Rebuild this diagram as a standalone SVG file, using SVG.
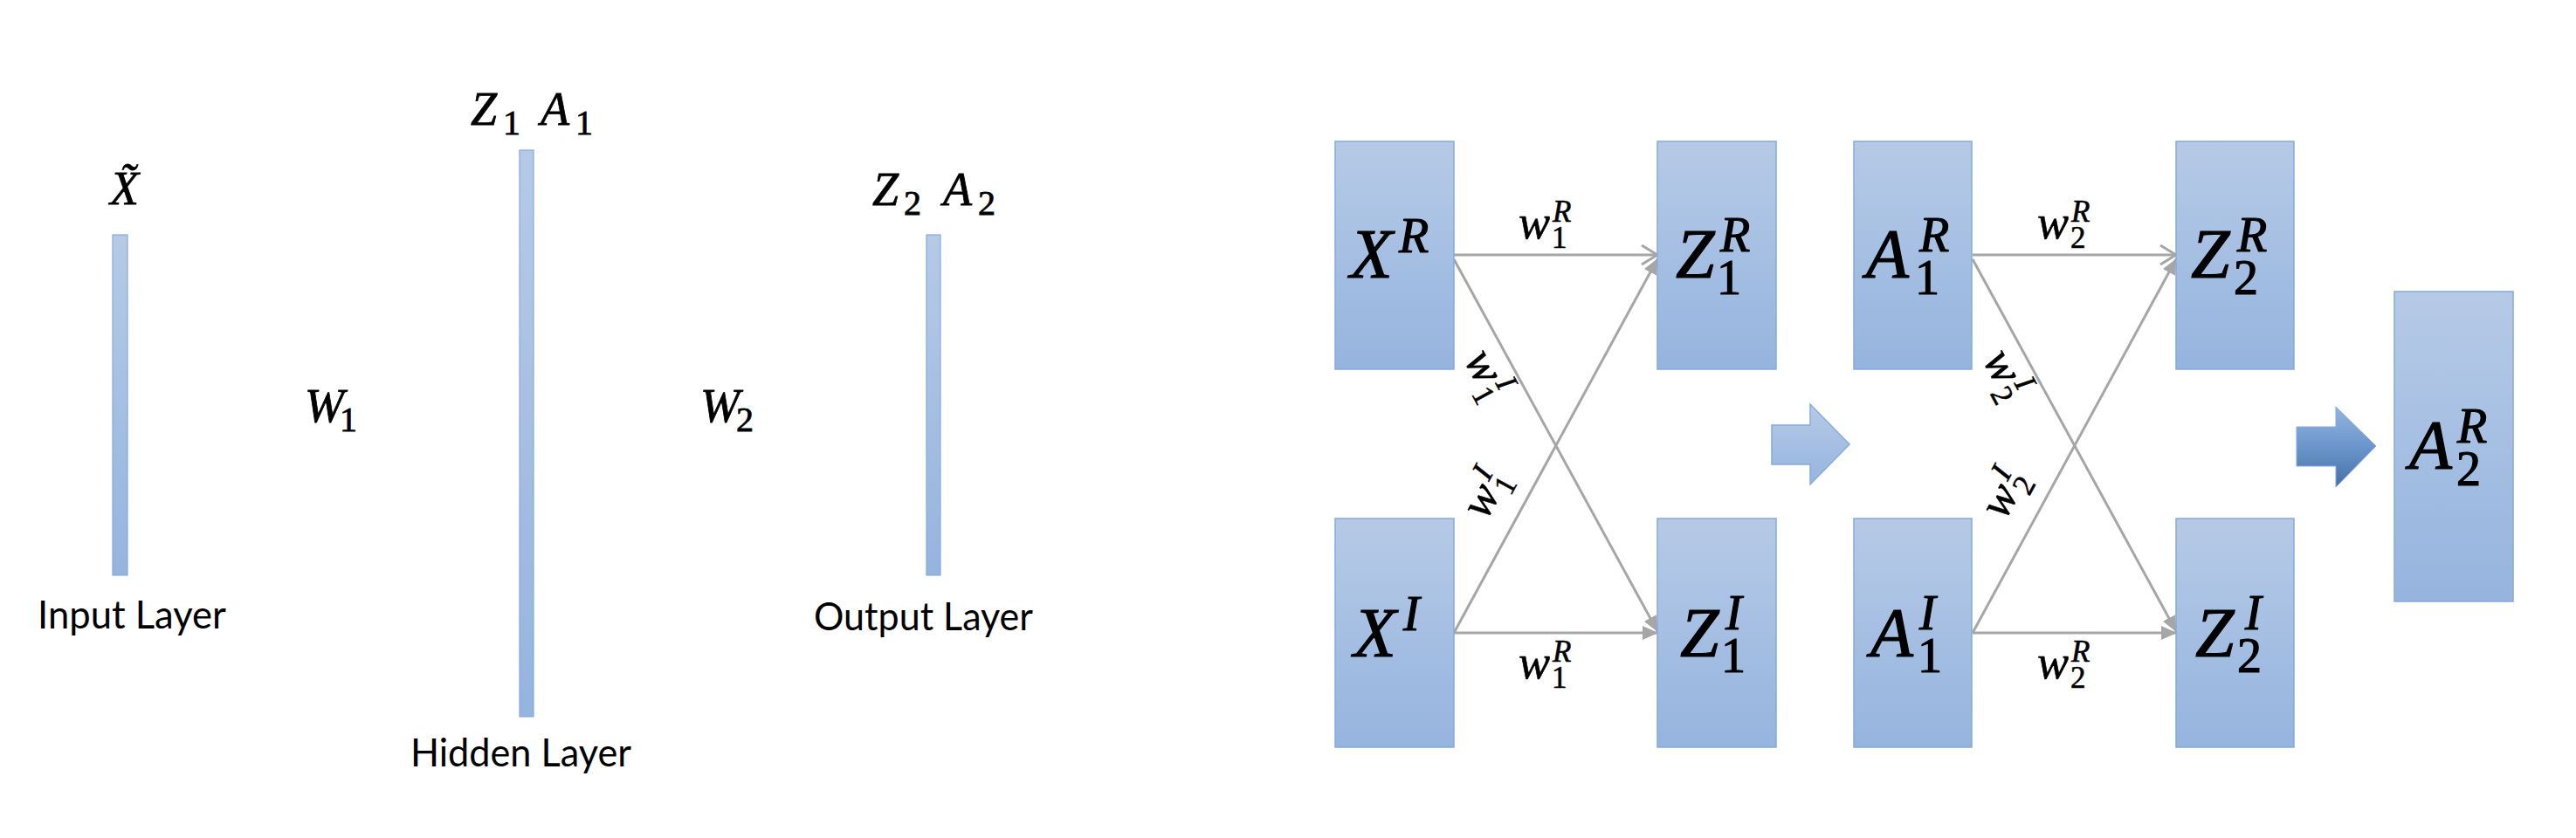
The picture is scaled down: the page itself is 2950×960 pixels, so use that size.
<svg xmlns="http://www.w3.org/2000/svg" width="2950" height="960" viewBox="0 0 2950 960">
<defs>
<linearGradient id="boxg" x1="0" y1="0" x2="0" y2="1">
<stop offset="0" stop-color="#b6cae7"/>
<stop offset="1" stop-color="#95b4de"/>
</linearGradient>
<linearGradient id="darkg" x1="0" y1="0" x2="0" y2="1">
<stop offset="0" stop-color="#92b5e0"/>
<stop offset="0.5" stop-color="#6b96cc"/>
<stop offset="1" stop-color="#4570a6"/>
</linearGradient>
<marker id="tri" viewBox="0 0 18 16" markerWidth="18" markerHeight="16" refX="17" refY="8" orient="auto" markerUnits="userSpaceOnUse">
<path d="M0,0 L18,8 L0,16 Z" fill="#a6a6a6"/>
</marker>
<marker id="open" viewBox="0 0 22 26" markerWidth="22" markerHeight="26" refX="20" refY="13" orient="auto" markerUnits="userSpaceOnUse">
<path d="M2,2 L20,13 L2,24" fill="none" stroke="#a6a6a6" stroke-width="3"/>
</marker>
</defs>
<style>
.box{fill:url(#boxg);stroke:#86aadb;stroke-width:1.5}
.bar{fill:url(#boxg);stroke:#86aadb;stroke-width:1.2}
text.m{font-family:"Liberation Serif",serif;fill:#000;stroke:#000}
.i{font-style:italic}
.n{font-style:normal}
.big{font-size:80px;stroke-width:1.2}
.sc{font-size:56px}
.lm{font-size:54px;stroke-width:0.8}
.ls{font-size:40px}
.wm{font-size:54px;stroke-width:0.6}
.ws{font-size:35px}
.lbl{font-family:Lato,"Liberation Sans",sans-serif;font-size:45px;fill:#000}
.con{stroke:#a6a6a6;stroke-width:3;fill:none}
</style>
<rect width="2950" height="960" fill="#fff"/>

<!-- Left panel -->
<g id="input-layer">
<rect class="bar" x="129" y="269" width="17" height="390"/>
<text class="m lm i" x="126" y="234">X̃</text>
<text class="lbl" x="43" y="720" textLength="216" lengthAdjust="spacingAndGlyphs">Input Layer</text>
</g>
<g id="w1-label">
<text class="m lm"><tspan class="i" x="349" y="483">W</tspan><tspan class="n ls" x="389" y="494">1</tspan></text>
</g>
<g id="hidden-layer">
<rect class="bar" x="595" y="172" width="16" height="649"/>
<text class="m lm"><tspan class="i" x="539" y="143">Z</tspan><tspan class="n ls" x="576" y="154">1</tspan><tspan class="i" x="619" y="143">A</tspan><tspan class="n ls" x="659" y="154">1</tspan></text>
<text class="lbl" x="470" y="878" textLength="253" lengthAdjust="spacingAndGlyphs">Hidden Layer</text>
</g>
<g id="w2-label">
<text class="m lm"><tspan class="i" x="802" y="483">W</tspan><tspan class="n ls" x="843" y="494">2</tspan></text>
</g>
<g id="output-layer">
<rect class="bar" x="1061" y="269" width="16" height="390"/>
<text class="m lm"><tspan class="i" x="999" y="235">Z</tspan><tspan class="n ls" x="1035" y="246">2</tspan><tspan class="i" x="1080" y="235">A</tspan><tspan class="n ls" x="1120" y="246">2</tspan></text>
<text class="lbl" x="932" y="722" textLength="251" lengthAdjust="spacingAndGlyphs">Output Layer</text>
</g>

<!-- Right panel connectors -->
<g id="connectors">
<line class="con" x1="1665" y1="292" x2="1898" y2="292" marker-end="url(#open)"/>
<line class="con" x1="1665" y1="297" x2="1898" y2="723" marker-end="url(#tri)"/>
<line class="con" x1="1665" y1="725" x2="1898" y2="297" marker-end="url(#tri)"/>
<line class="con" x1="1665" y1="725" x2="1898" y2="725" marker-end="url(#tri)"/>
<line class="con" x1="2259" y1="292" x2="2492" y2="292" marker-end="url(#open)"/>
<line class="con" x1="2259" y1="297" x2="2492" y2="723" marker-end="url(#tri)"/>
<line class="con" x1="2259" y1="725" x2="2492" y2="297" marker-end="url(#tri)"/>
<line class="con" x1="2259" y1="725" x2="2492" y2="725" marker-end="url(#tri)"/>
<polygon id="step-arrow-1" points="2029,487 2073,487 2073,463 2118,509 2073,555 2073,532 2029,532" fill="url(#boxg)" stroke="#86aadb" stroke-width="1.5"/>
<polygon id="step-arrow-2" points="2630,489 2675,489 2675,466 2721,511 2675,558 2675,534 2630,534" fill="url(#darkg)" stroke="#86aadb" stroke-width="1"/>
</g>

<!-- Edge labels -->
<g id="edge-labels">
<text class="m wm" transform="translate(1739,273)"><tspan class="i" x="0" y="0">w</tspan><tspan class="i ws" x="39" y="-19">R</tspan><tspan class="n ws" x="38" y="11">1</tspan></text>
<text class="m wm" transform="translate(1739,777)"><tspan class="i" x="0" y="0">w</tspan><tspan class="i ws" x="39" y="-19">R</tspan><tspan class="n ws" x="38" y="11">1</tspan></text>
<text class="m wm" transform="translate(1676,412) rotate(61.4)"><tspan class="i" x="0" y="0">w</tspan><tspan class="i ws" x="41" y="-19">I</tspan><tspan class="n ws" x="38" y="11">1</tspan></text>
<text class="m wm" transform="translate(1702,597) rotate(-61.4)"><tspan class="i" x="0" y="0">w</tspan><tspan class="i ws" x="41" y="-19">I</tspan><tspan class="n ws" x="38" y="11">1</tspan></text>
<text class="m wm" transform="translate(2333,273)"><tspan class="i" x="0" y="0">w</tspan><tspan class="i ws" x="39" y="-19">R</tspan><tspan class="n ws" x="38" y="11">2</tspan></text>
<text class="m wm" transform="translate(2333,777)"><tspan class="i" x="0" y="0">w</tspan><tspan class="i ws" x="39" y="-19">R</tspan><tspan class="n ws" x="38" y="11">2</tspan></text>
<text class="m wm" transform="translate(2270,412) rotate(61.4)"><tspan class="i" x="0" y="0">w</tspan><tspan class="i ws" x="41" y="-19">I</tspan><tspan class="n ws" x="38" y="11">2</tspan></text>
<text class="m wm" transform="translate(2296,597) rotate(-61.4)"><tspan class="i" x="0" y="0">w</tspan><tspan class="i ws" x="41" y="-19">I</tspan><tspan class="n ws" x="38" y="11">2</tspan></text>
</g>

<!-- Right panel nodes -->
<g id="XR"><rect class="box" x="1529" y="162" width="136" height="261"/>
<text class="m big"><tspan class="i" x="1546" y="318">X</tspan><tspan class="i sc" x="1602" y="289">R</tspan></text></g>
<g id="XI"><rect class="box" x="1529" y="594" width="136" height="262"/>
<text class="m big"><tspan class="i" x="1550" y="752">X</tspan><tspan class="i sc" x="1607" y="722">I</tspan></text></g>
<g id="Z1R"><rect class="box" x="1898" y="162" width="136" height="261"/>
<text class="m big"><tspan class="i" x="1919" y="318">Z</tspan><tspan class="i sc" x="1970" y="288">R</tspan><tspan class="n sc" x="1966" y="337">1</tspan></text></g>
<g id="Z1I"><rect class="box" x="1898" y="594" width="136" height="262"/>
<text class="m big"><tspan class="i" x="1924" y="752">Z</tspan><tspan class="i sc" x="1976" y="721">I</tspan><tspan class="n sc" x="1971" y="770">1</tspan></text></g>
<g id="A1R"><rect class="box" x="2123" y="162" width="135" height="261"/>
<text class="m big"><tspan class="i" x="2137" y="318">A</tspan><tspan class="i sc" x="2198" y="288">R</tspan><tspan class="n sc" x="2193" y="337">1</tspan></text></g>
<g id="A1I"><rect class="box" x="2123" y="594" width="135" height="262"/>
<text class="m big"><tspan class="i" x="2142" y="752">A</tspan><tspan class="i sc" x="2198" y="721">I</tspan><tspan class="n sc" x="2196" y="770">1</tspan></text></g>
<g id="Z2R"><rect class="box" x="2492" y="162" width="135" height="261"/>
<text class="m big"><tspan class="i" x="2509" y="318">Z</tspan><tspan class="i sc" x="2562" y="288">R</tspan><tspan class="n sc" x="2558" y="337">2</tspan></text></g>
<g id="Z2I"><rect class="box" x="2492" y="594" width="135" height="262"/>
<text class="m big"><tspan class="i" x="2514" y="752">Z</tspan><tspan class="i sc" x="2571" y="721">I</tspan><tspan class="n sc" x="2562" y="770">2</tspan></text></g>
<g id="A2R"><rect class="box" x="2742" y="334" width="136" height="355"/>
<text class="m big"><tspan class="i" x="2759" y="537">A</tspan><tspan class="i sc" x="2814" y="507">R</tspan><tspan class="n sc" x="2813" y="556">2</tspan></text></g>
</svg>
